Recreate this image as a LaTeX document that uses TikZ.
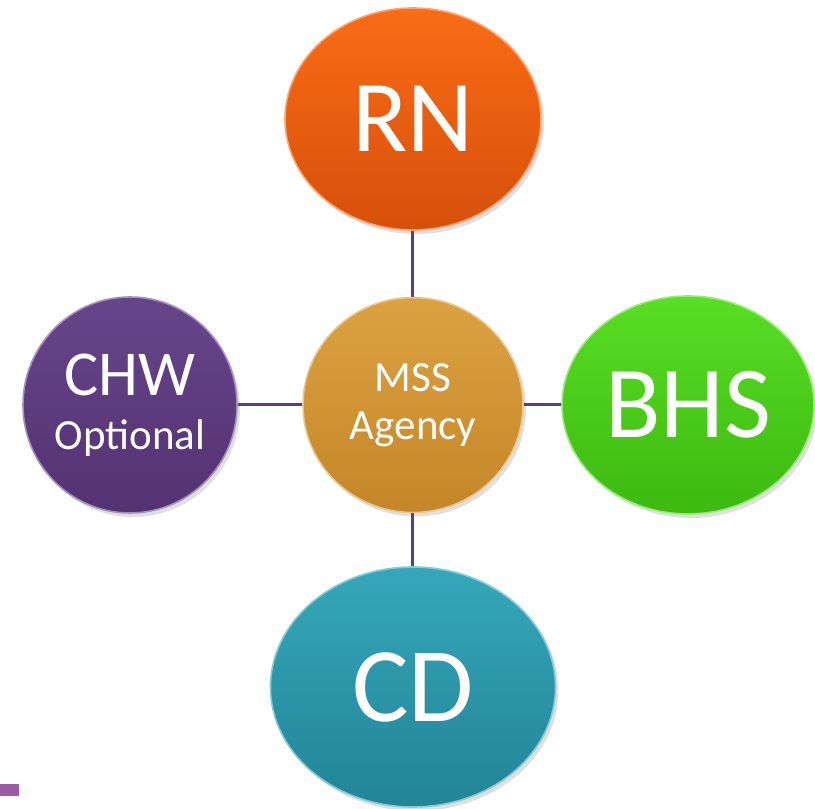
\documentclass[tikz,border=0pt]{standalone}
\usepackage{fontspec}
\setmainfont{Carlito}
\usepackage{tikz}
\usetikzlibrary{arrows,positioning}
\usetikzlibrary{shapes}
\usetikzlibrary{shadows}

\definecolor{linkpurple}{HTML}{5A3F80}
\definecolor{rnTop}{HTML}{FA6C16}
\definecolor{rnBot}{HTML}{D6500B}
\definecolor{mssTop}{HTML}{DCA242}
\definecolor{mssBot}{HTML}{C48628}
\definecolor{chwTop}{HTML}{66458A}
\definecolor{chwBot}{HTML}{543272}
\definecolor{bhsTop}{HTML}{58DE24}
\definecolor{bhsBot}{HTML}{3DB910}
\definecolor{cdTop}{HTML}{36A7BA}
\definecolor{cdBot}{HTML}{228497}
\definecolor{cornerpurple}{HTML}{9B5BA5}

\begin{document}
\begin{tikzpicture}[node distance=142pt,
		thick,main node/.style={ellipse,text=white,inner sep=0pt,align=center,
		drop shadow={opacity=0.25,shadow xshift=1.5pt,shadow yshift=-2pt}},
		link/.style={draw=linkpurple,line width=1.5pt}]
		
		\useasboundingbox (-206.5pt,-202pt) rectangle (201pt,202.5pt);
		
		\node[main node,minimum width=110pt,minimum height=107.5pt,top color=mssTop,bottom color=mssBot,
			draw=mssTop!60!white,font=\fontsize{21.5}{24}\selectfont] (2) {MSS\\Agency};
		\node[main node,minimum width=128pt,minimum height=111pt,top color=rnTop,bottom color=rnBot,
			draw=rnTop!60!white,font=\fontsize{51}{51}\selectfont] (1) [above of=2, yshift=1pt] {RN};
		\node[main node,minimum width=107pt,minimum height=108pt,top color=chwTop,bottom color=chwBot,
			draw=chwTop!60!white,font=\fontsize{32}{27}\selectfont] (3) [left of=2, node distance=141.5pt]
			{CHW\\{\fontsize{21.5}{24}\selectfont Optional}};
		\node[main node,minimum width=126pt,minimum height=109pt,top color=bhsTop,bottom color=bhsBot,
			draw=bhsTop!60!white,font=\fontsize{51}{51}\selectfont] (4) [right of=2, node distance=137.5pt] {BHS};
		\node[main node,minimum width=142.5pt,minimum height=120pt,top color=cdTop,bottom color=cdBot,
			draw=cdTop!60!white,font=\fontsize{53}{53}\selectfont] (5) [below of=2, node distance=141pt] {CD};
		
		\path[link]
		(1) edge (2)
		(3) edge (2)
		(2) edge (4)
		(2) edge (5);
		
		\fill[cornerpurple] (-206.5pt,-195.5pt) rectangle (-197pt,-189.5pt);
		\end{tikzpicture}
\end{document}
